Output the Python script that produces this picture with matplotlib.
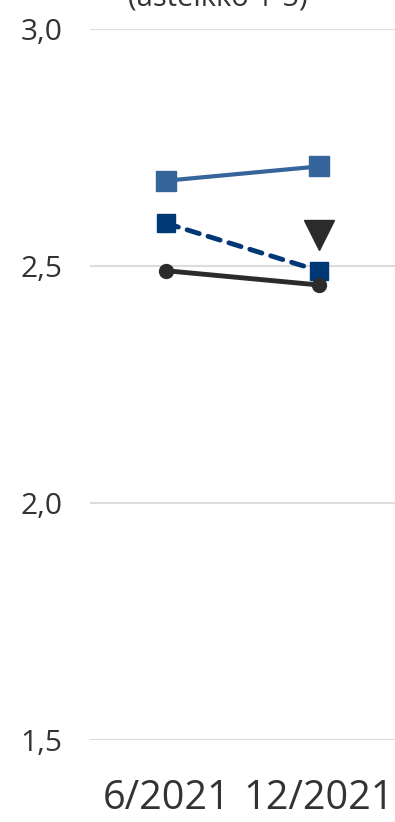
import matplotlib
matplotlib.use("Agg")
import matplotlib.pyplot as plt

plt.rcParams['font.family'] = ['Open Sans', 'DejaVu Sans']

categories = ["6/2021", "12/2021"]
series_light = [2.68, 2.71]
series_navy = [2.59, 2.49]
series_black = [2.49, 2.46]
marker_value = 2.565
y_ticks = [1.5, 2.0, 2.5, 3.0]
y_tick_labels = ["1,5", "2,0", "2,5", "3,0"]
title = "(asteikko 1-5)"

fig = plt.figure(figsize=(3.95, 8.22), dpi=100)
ax = fig.add_axes([90/395, 1 - 740/822, 1 - 90/395, (740 - 29)/822])

x = list(range(len(categories)))
ax.plot(x, series_light, color="#35659a", lw=3, marker="s", ms=14, zorder=3)
ax.plot(x, series_navy, color="#003876", lw=3.5, ls=(0, (2.6, 1.9)),
        dash_capstyle="round", marker="s", ms=13, zorder=4)
ax.plot(x, series_black, color="#2b2b2b", lw=3.5, marker="o", ms=10, zorder=5)
ax.plot([1], [marker_value], color="#2b2b2b", marker="v", ms=22, ls="none", zorder=6)

ax.set_xlim(-0.5, 1.5)
ax.set_ylim(1.5, 3.0)
ax.set_yticks(y_ticks)
ax.set_yticklabels(y_tick_labels, fontsize=21.5, color="#333333")
ax.set_xticks(x)
ax.set_xticklabels(categories, fontsize=28.5, color="#333333")
ax.tick_params(axis="y", length=0, pad=20)
ax.tick_params(axis="x", length=0, pad=28)
ax.grid(axis="y", color="#dcdcdc", lw=1.5, zorder=0)
for s in ax.spines.values():
    s.set_visible(False)
ax.set_axisbelow(True)

fig.text(218/395, 1 - 6/822, title, ha="center", va="baseline", fontsize=21, color="#333333")

fig.savefig("out.png", dpi=100)
